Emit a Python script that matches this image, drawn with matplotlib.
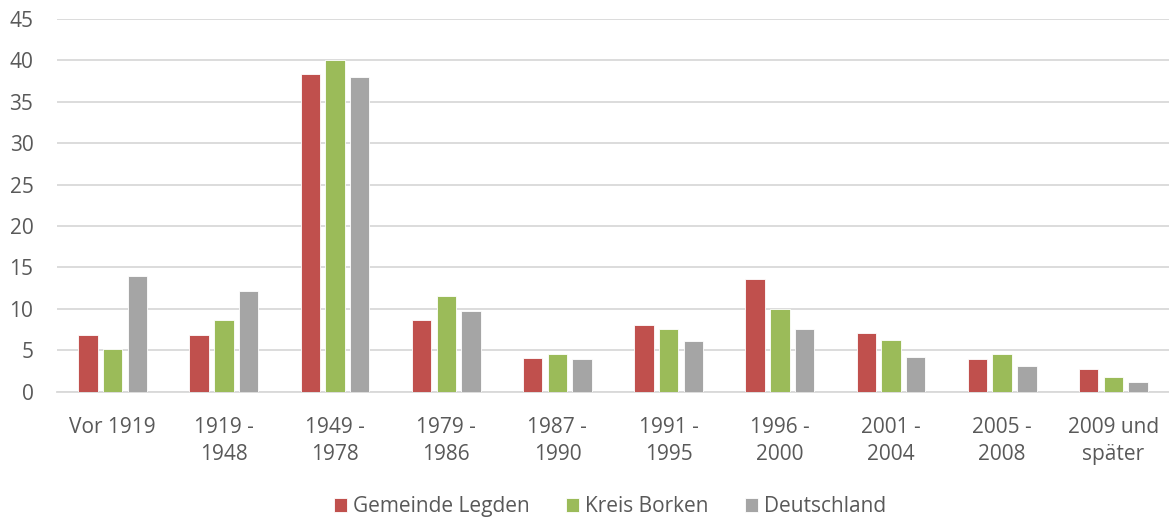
import matplotlib
matplotlib.use('Agg')
import matplotlib.pyplot as plt
import numpy as np

categories = ["Vor 1919", "1919 -\n1948", "1949 -\n1978", "1979 -\n1986", "1987 -\n1990",
              "1991 -\n1995", "1996 -\n2000", "2001 -\n2004", "2005 -\n2008", "2009 und\nspäter"]
legden = [6.8, 6.8, 38.4, 8.7, 4.1, 8.0, 13.6, 7.1, 4.0, 2.8]
borken = [5.1, 8.7, 40.0, 11.5, 4.6, 7.6, 10.0, 6.2, 4.6, 1.8]
deutschland = [14.0, 12.2, 38.0, 9.7, 3.9, 6.1, 7.6, 4.2, 3.1, 1.2]
series_names = ["Gemeinde Legden", "Kreis Borken", "Deutschland"]
colors = ["#C0504D", "#9BBB59", "#A5A5A5"]

plt.rcParams['font.family'] = ['Open Sans', 'DejaVu Sans']
text_col = "#595959"
grid_col = "#D9D9D9"

fig = plt.figure(figsize=(11.69, 5.18), dpi=100)
ax = fig.add_axes([0.0488, 0.2438, 0.9512, 0.7195])

x = np.arange(len(categories))
step = 0.222
width = 0.175
for i, (vals, name, c) in enumerate(zip([legden, borken, deutschland], series_names, colors)):
    ax.bar(x + (i - 1) * step, vals, width=width, color=c, label=name,
           edgecolor="white", linewidth=0.6, zorder=3)

ax.set_xlim(-0.5, len(categories) - 0.5)
ax.set_ylim(0, 45)
ax.set_yticks(range(0, 46, 5))
ax.yaxis.grid(True, color=grid_col, linewidth=1.3, zorder=0)
ax.set_xticks(x)
ax.set_xticklabels(categories, linespacing=1.42)
ax.tick_params(axis='both', length=0, labelsize=15, colors=text_col)
ax.tick_params(axis='x', pad=18)
ax.tick_params(axis='y', pad=17)
for s in ['left', 'right', 'top']:
    ax.spines[s].set_visible(False)
ax.spines['bottom'].set_color(grid_col)
ax.spines['bottom'].set_linewidth(1.3)

leg = fig.legend(loc='lower center', bbox_to_anchor=(0.522, -0.035), ncol=3, frameon=False,
                 fontsize=15, handlelength=0.6, handleheight=0.6, handletextpad=0.3,
                 columnspacing=1.75)
for t in leg.get_texts():
    t.set_color(text_col)

fig.savefig("out.png", dpi=100)
